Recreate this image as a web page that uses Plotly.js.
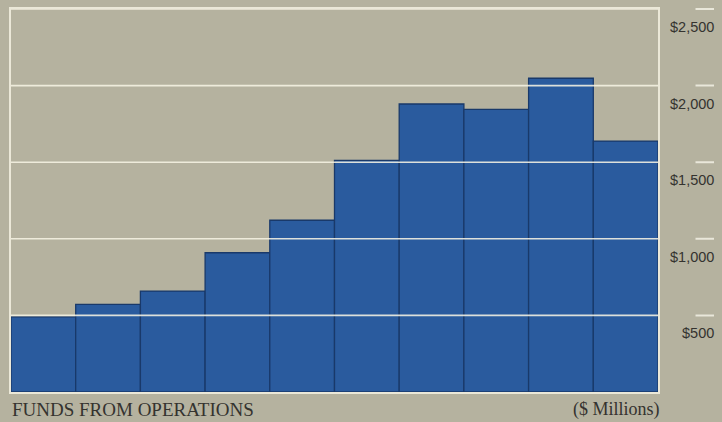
<!DOCTYPE html>
<html>
<head>
<meta charset="utf-8">
<script src="https://cdn.plot.ly/plotly-3.0.1.min.js"></script>
<style>
  html, body { margin: 0; padding: 0; background: #b5b29f; }
  #chart { width: 722px; height: 422px; }
</style>
</head>
<body>
<div id="chart"></div>
<script>
// Funds from operations, ten consecutive periods ($ millions)
const periods = [1, 2, 3, 4, 5, 6, 7, 8, 9, 10];
const funds = [490, 572, 659, 909, 1121, 1512, 1880, 1845, 2048, 1638];

// Right-hand scale
const tickValues = [500, 1000, 1500, 2000, 2500];
const tickLabels = ['$500', '$1,000', '$1,500', '$2,000', '$2,500'];

const paperColor = '#b5b29f';
const barColor = '#2a5b9e';
const edgeColor = '#19396a';
const ruleColor = 'rgba(246,243,228,0.88)';
const dashColor = 'rgba(238,236,224,0.92)';
const inkColor = '#34332f';

// Plot frame occupies the left part of the paper; the scale sits to its right
const plotDomainEnd = 647 / 703;

const bars = {
  type: 'bar',
  x: periods,
  y: funds,
  marker: { color: barColor, line: { color: edgeColor, width: 1.3 } },
  hoverinfo: 'skip'
};

// Horizontal rules drawn over the bars
const shapes = tickValues.map(v => ({
  type: 'line', layer: 'above', xref: 'paper', yref: 'y',
  x0: 0, x1: plotDomainEnd, y0: v, y1: v,
  line: { color: ruleColor, width: 1.6 }
}));

const annotations = [];
tickValues.forEach((v, i) => {
  // short dash beside the scale, level with each rule
  annotations.push({
    xref: 'paper', yref: 'y', x: 1, y: v,
    text: '', showarrow: true, arrowhead: 0, arrowwidth: 2,
    arrowcolor: dashColor, ax: -20, ay: 0, standoff: 0, startstandoff: 0
  });
  // scale label just below the dash
  annotations.push({
    xref: 'paper', yref: 'y', x: 1, y: v,
    xanchor: 'right', yanchor: 'middle', yshift: -18, xshift: 2,
    text: tickLabels[i], showarrow: false,
    font: { family: 'Liberation Sans, Arial, sans-serif', size: 14.5, color: inkColor }
  });
});

annotations.push({
  xref: 'paper', yref: 'paper', x: 0, y: 0,
  xanchor: 'left', yanchor: 'middle', yshift: -17, xshift: -1,
  text: 'FUNDS FROM OPERATIONS', showarrow: false,
  font: { family: 'Liberation Serif, Times New Roman, serif', size: 19, color: inkColor }
});
annotations.push({
  xref: 'paper', yref: 'paper', x: plotDomainEnd, y: 0,
  xanchor: 'right', yanchor: 'middle', yshift: -17, xshift: 4,
  text: '($ Millions)', showarrow: false,
  font: { family: 'Liberation Serif, Times New Roman, serif', size: 18, color: inkColor }
});

const layout = {
  width: 722, height: 422,
  margin: { l: 11, r: 8, t: 9, b: 30 },
  paper_bgcolor: paperColor,
  plot_bgcolor: paperColor,
  bargap: 0,
  showlegend: false,
  xaxis: {
    domain: [0, plotDomainEnd],
    range: [0.5, 10.5], showticklabels: false, ticks: '', showgrid: false,
    zeroline: false, showline: true, mirror: true, linecolor: '#ebe8d8',
    linewidth: 1.6, layer: 'above traces', fixedrange: true
  },
  yaxis: {
    range: [0, 2500], showticklabels: false, ticks: '', showgrid: false,
    zeroline: false, showline: true, mirror: true, linecolor: '#ebe8d8',
    linewidth: 1.6, layer: 'above traces', fixedrange: true
  },
  shapes: shapes,
  annotations: annotations
};

Plotly.newPlot('chart', [bars], layout, { displayModeBar: false, staticPlot: true });
</script>
</body>
</html>
